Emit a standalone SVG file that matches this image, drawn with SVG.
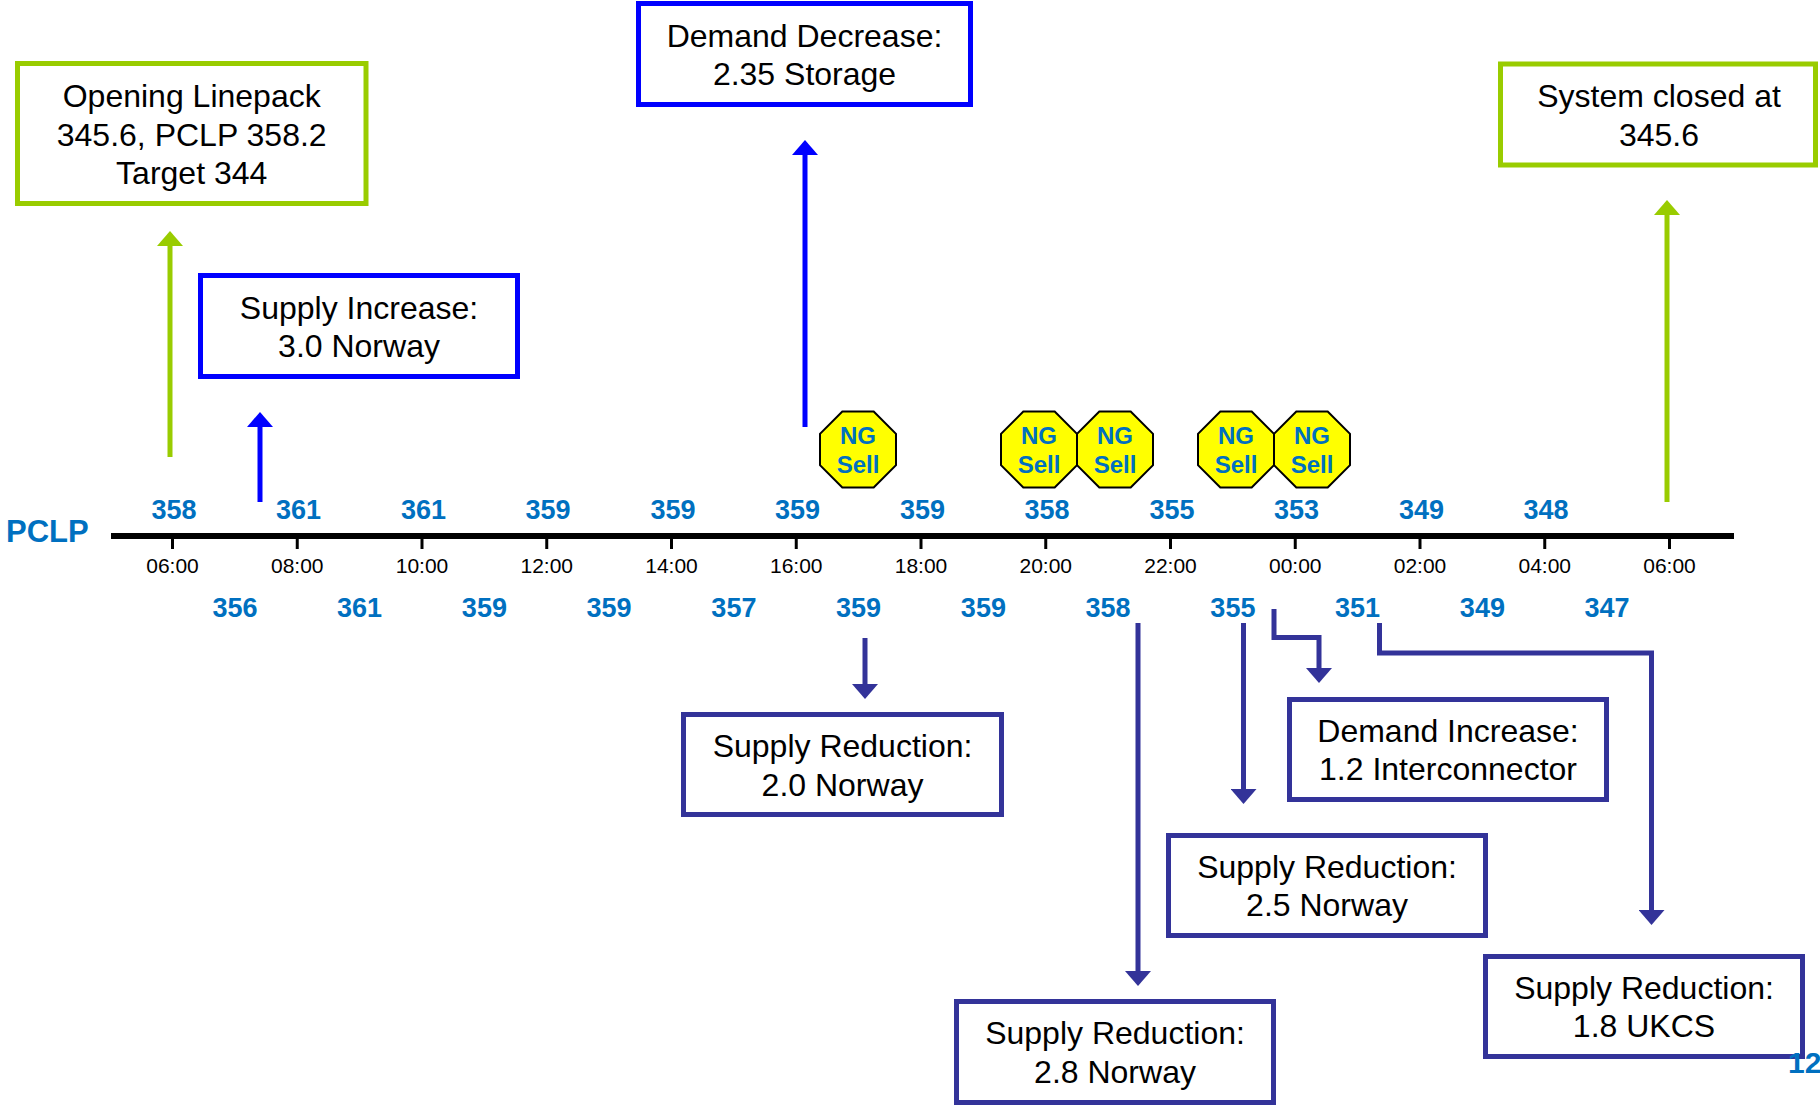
<svg xmlns="http://www.w3.org/2000/svg" width="1820" height="1108" viewBox="0 0 1820 1108">
<style>
.box{fill:#fff;stroke-width:5}
.g{stroke:#99CC00}
.b{stroke:#0000FF}
.i{stroke:#333399}
.bt{font-family:"Liberation Sans",Arial,sans-serif;font-size:32px;fill:#000;text-anchor:middle}
.num{font-family:"Liberation Sans",Arial,sans-serif;font-size:27px;font-weight:bold;fill:#0070C0;text-anchor:middle}
.tm{font-family:"Liberation Sans",Arial,sans-serif;font-size:21px;fill:#000;text-anchor:middle}
.oct{fill:#FFFF00;stroke:#000;stroke-width:2}
.ng{font-family:"Liberation Sans",Arial,sans-serif;font-size:24px;font-weight:bold;fill:#0070C0;text-anchor:middle}
.cn{fill:none;stroke-width:5;stroke-linejoin:miter}
</style>
<defs>
<marker id="ahG" markerUnits="userSpaceOnUse" markerWidth="15" markerHeight="26" viewBox="0 0 15 26" refX="0" refY="13" orient="auto"><path d="M0,0 L15,13 L0,26 z" fill="#99CC00"/></marker>
<marker id="ahB" markerUnits="userSpaceOnUse" markerWidth="15" markerHeight="26" viewBox="0 0 15 26" refX="0" refY="13" orient="auto"><path d="M0,0 L15,13 L0,26 z" fill="#0000FF"/></marker>
<marker id="ahI" markerUnits="userSpaceOnUse" markerWidth="15" markerHeight="26" viewBox="0 0 15 26" refX="0" refY="13" orient="auto"><path d="M0,0 L15,13 L0,26 z" fill="#333399"/></marker>
</defs>
<rect width="1820" height="1108" fill="#fff"/>

<g id="axis">
<line x1="111" y1="536" x2="1734" y2="536" stroke="#000" stroke-width="6"/>
<g stroke="#000" stroke-width="3">
<line x1="172.5" y1="536" x2="172.5" y2="549"/><line x1="297.25" y1="536" x2="297.25" y2="549"/><line x1="422" y1="536" x2="422" y2="549"/><line x1="546.75" y1="536" x2="546.75" y2="549"/><line x1="671.5" y1="536" x2="671.5" y2="549"/><line x1="796.25" y1="536" x2="796.25" y2="549"/><line x1="921" y1="536" x2="921" y2="549"/><line x1="1045.75" y1="536" x2="1045.75" y2="549"/><line x1="1170.5" y1="536" x2="1170.5" y2="549"/><line x1="1295.25" y1="536" x2="1295.25" y2="549"/><line x1="1420" y1="536" x2="1420" y2="549"/><line x1="1544.75" y1="536" x2="1544.75" y2="549"/><line x1="1669.5" y1="536" x2="1669.5" y2="549"/>
</g>
<text x="6" y="542" font-family="Liberation Sans,Arial,sans-serif" font-size="31" font-weight="bold" fill="#0070C0">PCLP</text>
<g class="tm">
<text x="172.5" y="573">06:00</text><text x="297.25" y="573">08:00</text><text x="422" y="573">10:00</text><text x="546.75" y="573">12:00</text><text x="671.5" y="573">14:00</text><text x="796.25" y="573">16:00</text><text x="921" y="573">18:00</text><text x="1045.75" y="573">20:00</text><text x="1170.5" y="573">22:00</text><text x="1295.25" y="573">00:00</text><text x="1420" y="573">02:00</text><text x="1544.75" y="573">04:00</text><text x="1669.5" y="573">06:00</text>
</g>
<g class="num">
<text x="174" y="519">358</text><text x="298.5" y="519">361</text><text x="423.5" y="519">361</text><text x="548" y="519">359</text><text x="673" y="519">359</text><text x="797.5" y="519">359</text><text x="922.5" y="519">359</text><text x="1047" y="519">358</text><text x="1172" y="519">355</text><text x="1296.5" y="519">353</text><text x="1421.5" y="519">349</text><text x="1546" y="519">348</text>
<text x="235" y="617">356</text><text x="359.6" y="617">361</text><text x="484.4" y="617">359</text><text x="609.1" y="617">359</text><text x="733.9" y="617">357</text><text x="858.6" y="617">359</text><text x="983.4" y="617">359</text><text x="1108.1" y="617">358</text><text x="1232.9" y="617">355</text><text x="1357.6" y="617">351</text><text x="1482.4" y="617">349</text><text x="1607.1" y="617">347</text>
</g>
</g>

<g id="connectors" class="cn">
<path d="M170,457 V246" stroke="#99CC00" marker-end="url(#ahG)"/>
<path d="M260,502 V427" stroke="#0000FF" marker-end="url(#ahB)"/>
<path d="M805,427 V155" stroke="#0000FF" marker-end="url(#ahB)"/>
<path d="M1667,502 V215" stroke="#99CC00" marker-end="url(#ahG)"/>
<path d="M865,638 V684" stroke="#333399" marker-end="url(#ahI)"/>
<path d="M1138,623 V971" stroke="#333399" marker-end="url(#ahI)"/>
<path d="M1243.5,623 V789" stroke="#333399" marker-end="url(#ahI)"/>
<path d="M1274,609 V637.5 H1319 V668" stroke="#333399" marker-end="url(#ahI)"/>
<path d="M1379.5,623 V653 H1651.5 V910" stroke="#333399" marker-end="url(#ahI)"/>
</g>

<g id="opening">
<rect class="box g" x="17.5" y="63.5" width="348.5" height="140"/>
<text class="bt" x="191.7" y="107">Opening Linepack</text>
<text class="bt" x="191.7" y="146">345.6, PCLP 358.2</text>
<text class="bt" x="191.7" y="184">Target 344</text>
</g>
<g id="supply-increase">
<rect class="box b" x="200.5" y="275.5" width="317" height="101"/>
<text class="bt" x="359" y="319">Supply Increase:</text>
<text class="bt" x="359" y="357">3.0 Norway</text>
</g>
<g id="demand-decrease">
<rect class="box b" x="638.5" y="3.5" width="332" height="101"/>
<text class="bt" x="804.5" y="47">Demand Decrease:</text>
<text class="bt" x="804.5" y="85">2.35 Storage</text>
</g>
<g id="system-closed">
<rect class="box g" x="1500.5" y="64" width="315" height="101"/>
<text class="bt" x="1659" y="107">System closed at</text>
<text class="bt" x="1659" y="146">345.6</text>
</g>
<g id="sr-20">
<rect class="box i" x="683.5" y="714.5" width="318" height="100"/>
<text class="bt" x="842.5" y="757">Supply Reduction:</text>
<text class="bt" x="842.5" y="796">2.0 Norway</text>
</g>
<g id="sr-28">
<rect class="box i" x="956.5" y="1001.5" width="317" height="101"/>
<text class="bt" x="1115" y="1044">Supply Reduction:</text>
<text class="bt" x="1115" y="1083">2.8 Norway</text>
</g>
<g id="sr-25">
<rect class="box i" x="1168.5" y="835.5" width="317" height="100"/>
<text class="bt" x="1327" y="878">Supply Reduction:</text>
<text class="bt" x="1327" y="916">2.5 Norway</text>
</g>
<g id="demand-increase">
<rect class="box i" x="1289.5" y="699.5" width="317" height="100"/>
<text class="bt" x="1448" y="742">Demand Increase:</text>
<text class="bt" x="1448" y="780">1.2 Interconnector</text>
</g>
<g id="sr-18">
<rect class="box i" x="1485.5" y="956.5" width="317" height="100"/>
<text class="bt" x="1644" y="999">Supply Reduction:</text>
<text class="bt" x="1644" y="1037">1.8 UKCS</text>
</g>

<g id="ng1" transform="translate(858,449.5)">
<polygon class="oct" points="-15.7,-38 15.7,-38 38,-15.7 38,15.7 15.7,38 -15.7,38 -38,15.7 -38,-15.7"/>
<text class="ng" x="0" y="-5.5">NG</text><text class="ng" x="0" y="23.5">Sell</text>
</g>
<g id="ng2" transform="translate(1039,449.5)">
<polygon class="oct" points="-15.7,-38 15.7,-38 38,-15.7 38,15.7 15.7,38 -15.7,38 -38,15.7 -38,-15.7"/>
<text class="ng" x="0" y="-5.5">NG</text><text class="ng" x="0" y="23.5">Sell</text>
</g>
<g id="ng3" transform="translate(1115,449.5)">
<polygon class="oct" points="-15.7,-38 15.7,-38 38,-15.7 38,15.7 15.7,38 -15.7,38 -38,15.7 -38,-15.7"/>
<text class="ng" x="0" y="-5.5">NG</text><text class="ng" x="0" y="23.5">Sell</text>
</g>
<g id="ng4" transform="translate(1236,449.5)">
<polygon class="oct" points="-15.7,-38 15.7,-38 38,-15.7 38,15.7 15.7,38 -15.7,38 -38,15.7 -38,-15.7"/>
<text class="ng" x="0" y="-5.5">NG</text><text class="ng" x="0" y="23.5">Sell</text>
</g>
<g id="ng5" transform="translate(1312,449.5)">
<polygon class="oct" points="-15.7,-38 15.7,-38 38,-15.7 38,15.7 15.7,38 -15.7,38 -38,15.7 -38,-15.7"/>
<text class="ng" x="0" y="-5.5">NG</text><text class="ng" x="0" y="23.5">Sell</text>
</g>

<g id="page-number">
<text x="1788" y="1073" font-family="Liberation Sans,Arial,sans-serif" font-size="30" font-weight="bold" fill="#0070C0">12</text>
</g>
</svg>
